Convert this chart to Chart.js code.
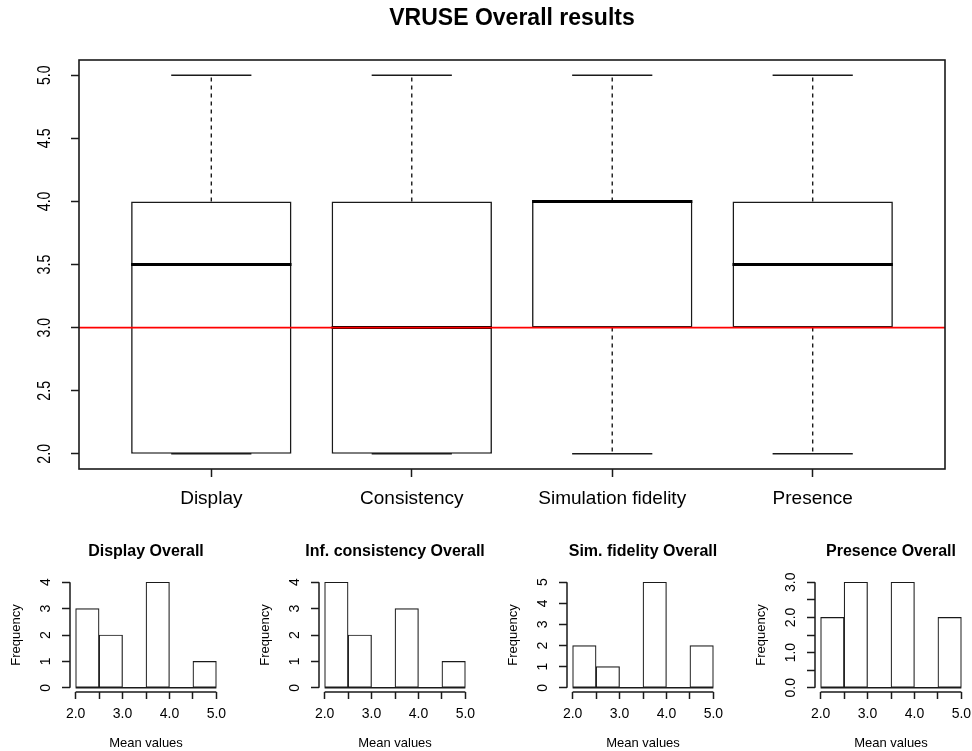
<!DOCTYPE html>
<html>
<head>
<meta charset="utf-8">
<title>VRUSE Overall results</title>
<script src="https://cdn.jsdelivr.net/npm/chart.js@4/dist/chart.umd.min.js"></script>
<style>
    html, body { margin: 0; padding: 0; background: #fff; }
    body { position: relative; width: 972px; height: 751px; overflow: hidden; }
    canvas { position: absolute; }
</style>
</head>
<body>
<canvas id="boxChart" width="972" height="530" style="left:0;top:0"></canvas>
<canvas id="hist0" width="249" height="221" style="left:0;top:530px"></canvas>
<canvas id="hist1" width="248" height="221" style="left:249px;top:530px"></canvas>
<canvas id="hist2" width="248" height="221" style="left:497px;top:530px"></canvas>
<canvas id="hist3" width="227" height="221" style="left:745px;top:530px"></canvas>
<script>
// --- Dados do boxplot principal ---
const boxCategories = ['Display', 'Consistency', 'Simulation fidelity', 'Presence'];
const boxMin = [2, 2, 2, 2];
const boxQ1 = [2, 2, 3, 3];
const boxMedian = [3.5, 3, 4, 3.5];
const boxQ3 = [4, 4, 4, 4];
const boxMax = [5, 5, 5, 5];
const referenceLine = 3;
const mainYTicks = [2.0, 2.5, 3.0, 3.5, 4.0, 4.5, 5.0];

// --- Dados dos histogramas ---
const histTitles = ['Display Overall', 'Inf. consistency Overall', 'Sim. fidelity Overall', 'Presence Overall'];
const binEdges = [2.0, 2.5, 3.0, 3.5, 4.0, 4.5, 5.0];
const displayCounts = [3, 2, 0, 4, 0, 1];
const consistencyCounts = [4, 2, 0, 3, 0, 1];
const fidelityCounts = [2, 1, 0, 5, 0, 2];
const presenceCounts = [2, 3, 0, 3, 0, 2];
const histXLabels = ['2.0', '', '3.0', '', '4.0', '', '5.0'];
const displayYTicks = [0, 1, 2, 3, 4];
const consistencyYTicks = [0, 1, 2, 3, 4];
const fidelityYTicks = [0, 1, 2, 3, 4, 5];
const presenceYTicks = [0, 0.5, 1, 1.5, 2, 2.5, 3];
const presenceYLabels = ['0.0', '', '1.0', '', '2.0', '', '3.0'];

const FONT = "'Liberation Sans', Arial, sans-serif";
const INK = '#1a1a1a';
Chart.defaults.font.family = FONT;
Chart.defaults.color = '#000';
Chart.defaults.animation = false;

// Rótulos do eixo y girados 90° como no R (texto paralelo ao eixo)
function rotatedYLabels(font, dx, squeeze, format) {
    return {
        id: 'rotatedYLabels',
        afterDraw(chart) {
            const scale = chart.scales.y;
            const ctx = chart.ctx;
            ctx.save();
            ctx.font = font;
            ctx.fillStyle = '#000';
            ctx.textAlign = 'center';
            ctx.textBaseline = 'middle';
            scale.ticks.forEach((t, i) => {
                const label = format(t.value, i);
                if (!label) return;
                ctx.save();
                ctx.translate(chart.chartArea.left + dx, scale.getPixelForValue(t.value));
                ctx.rotate(-Math.PI / 2);
                ctx.scale(squeeze, 1);
                ctx.fillText(label, 0, 0);
                ctx.restore();
            });
            ctx.restore();
        }
    };
}

// Título centrado sobre a área do gráfico, sem comprimir o texto
function plotTitle(text, font, y) {
    return {
        id: 'plotTitle',
        afterDraw(chart) {
            const a = chart.chartArea, ctx = chart.ctx;
            ctx.save();
            ctx.font = font;
            ctx.fillStyle = '#000';
            ctx.textAlign = 'center';
            ctx.textBaseline = 'middle';
            ctx.fillText(text, (a.left + a.right) / 2, y);
            ctx.restore();
        }
    };
}

const frameBox = {
    id: 'frameBox',
    afterDraw(chart) {
        const a = chart.chartArea, ctx = chart.ctx;
        ctx.save();
        ctx.strokeStyle = INK;
        ctx.lineWidth = 1.6;
        ctx.strokeRect(a.left, a.top, a.right - a.left, a.bottom - a.top);
        ctx.restore();
    }
};

// Eixos estilo R: a linha do eixo vai só do primeiro ao último tick
const rAxes = {
    id: 'rAxes',
    afterDatasetsDraw(chart) {
        const x = chart.scales.x, y = chart.scales.y, ctx = chart.ctx;
        const a = chart.chartArea;
        const xt = x.ticks, yt = y.ticks;
        ctx.save();
        ctx.strokeStyle = INK;
        ctx.lineWidth = 1.5;
        ctx.beginPath();
        ctx.moveTo(x.getPixelForValue(xt[0].value), a.bottom);
        ctx.lineTo(x.getPixelForValue(xt[xt.length - 1].value), a.bottom);
        ctx.moveTo(a.left, y.getPixelForValue(yt[0].value));
        ctx.lineTo(a.left, y.getPixelForValue(yt[yt.length - 1].value));
        // linha de base das classes vazias
        ctx.moveTo(x.getPixelForValue(binEdges[0]), y.getPixelForValue(0));
        ctx.lineTo(x.getPixelForValue(binEdges[binEdges.length - 1]), y.getPixelForValue(0));
        ctx.stroke();
        ctx.restore();
    }
};

// =====================================================================
// Boxplot principal
// =====================================================================
const X_MIN = 0.5 - 0.04 * 4, X_MAX = 4.5 + 0.04 * 4;
const Y_MIN = 2 - 0.04 * 3, Y_MAX = 5 + 0.04 * 3;

const boxData = boxCategories.map((c, i) => ({ x: i + 1, y: [boxQ1[i], boxQ3[i]] }));
const whiskerData = [];
const capData = [];
const medianData = [];
boxCategories.forEach((c, i) => {
    const x = i + 1;
    whiskerData.push({ x, y: boxQ3[i] }, { x, y: boxMax[i] }, { x, y: null });
    whiskerData.push({ x, y: boxQ1[i] }, { x, y: boxMin[i] }, { x, y: null });
    capData.push({ x: x - 0.2, y: boxMax[i] }, { x: x + 0.2, y: boxMax[i] }, { x, y: null });
    capData.push({ x: x - 0.2, y: boxMin[i] }, { x: x + 0.2, y: boxMin[i] }, { x, y: null });
    medianData.push({ x: x - 0.4, y: boxMedian[i] }, { x: x + 0.4, y: boxMedian[i] }, { x, y: null });
});

const lineBase = { type: 'line', pointRadius: 0, tension: 0, fill: false, spanGaps: false };

new Chart(document.getElementById('boxChart'), {
    type: 'bar',
    data: {
        datasets: [
            { type: 'bar', data: boxData, backgroundColor: '#fff', borderColor: INK, borderWidth: 1.6,
              borderSkipped: false, categoryPercentage: 1, barPercentage: 0.8, order: 4 },
            { ...lineBase, data: whiskerData, borderColor: INK, borderWidth: 1.4, borderDash: [4, 4], order: 3 },
            { ...lineBase, data: capData, borderColor: INK, borderWidth: 1.5, order: 2 },
            { ...lineBase, data: medianData, borderColor: '#000', borderWidth: 3, order: 1 },
            { ...lineBase, data: [{ x: X_MIN, y: referenceLine }, { x: X_MAX, y: referenceLine }],
              borderColor: '#ff0000', borderWidth: 1.6, order: 0 }
        ]
    },
    options: {
        responsive: false,
        layout: { padding: { left: 0, right: 27, top: 0, bottom: 0 } },
        plugins: {
            legend: { display: false },
            tooltip: { enabled: false },
            title: {
                display: true, text: 'VRUSE Overall results', fullSize: false,
                font: { size: 23, weight: 'bold', family: FONT }, color: '#000',
                padding: { top: 5, bottom: 27.4 }
            }
        },
        scales: {
            x: {
                type: 'linear', min: X_MIN, max: X_MAX, offset: false,
                afterBuildTicks: (s) => { s.ticks = boxCategories.map((c, i) => ({ value: i + 1 })); },
                afterFit: (s) => { s.height = 61; s.paddingLeft = 0; s.paddingRight = 0; },
                ticks: { autoSkip: false, maxRotation: 0, padding: 10, font: { size: 19 }, color: '#000',
                         callback: (v) => boxCategories[v - 1] },
                grid: { offset: false, drawOnChartArea: false, drawTicks: true, tickLength: 8, tickColor: INK, tickWidth: 1.5 },
                border: { display: false }
            },
            y: {
                type: 'linear', min: Y_MIN, max: Y_MAX,
                afterBuildTicks: (s) => { s.ticks = mainYTicks.map(v => ({ value: v })); },
                afterFit: (s) => { s.width = 79; s.paddingTop = 0; s.paddingBottom = 0; },
                ticks: { display: false },
                grid: { offset: false, drawOnChartArea: false, drawTicks: true, tickLength: 8, tickColor: INK, tickWidth: 1.5 },
                border: { display: false }
            }
        }
    },
    plugins: [frameBox, rotatedYLabels('19px ' + FONT, -34, 0.75, (v) => v.toFixed(1))]
});

// =====================================================================
// Histogramas
// =====================================================================
const histCounts = [displayCounts, consistencyCounts, fidelityCounts, presenceCounts];
const histYTicks = [displayYTicks, consistencyYTicks, fidelityYTicks, presenceYTicks];
const histYFormat = [
    (v) => String(v),
    (v) => String(v),
    (v) => String(v),
    (v, i) => presenceYLabels[i]
];
const HX_MIN = 2 - 0.04 * 3, HX_MAX = 5 + 0.04 * 3;

histCounts.forEach((counts, k) => {
    const canvas = document.getElementById('hist' + k);
    const yTicks = histYTicks[k];
    const yTop = yTicks[yTicks.length - 1];
    const bars = counts.map((n, i) => ({ x: (binEdges[i] + binEdges[i + 1]) / 2, y: n }));

    new Chart(canvas, {
        type: 'bar',
        data: {
            datasets: [{
                data: bars, backgroundColor: '#fff', borderColor: INK, borderWidth: 1.2,
                borderSkipped: false, categoryPercentage: 1, barPercentage: 1
            }]
        },
        options: {
            responsive: false,
            layout: { padding: { left: 0, right: canvas.width - 70 - 152, top: 48, bottom: 0 } },
            plugins: {
                legend: { display: false },
                tooltip: { enabled: false },
                title: { display: false }
            },
            scales: {
                x: {
                    type: 'linear', min: HX_MIN, max: HX_MAX, offset: false,
                    afterBuildTicks: (s) => { s.ticks = binEdges.map(v => ({ value: v })); },
                    afterFit: (s) => { s.height = 59; s.paddingLeft = 0; s.paddingRight = 0; },
                    ticks: { autoSkip: false, maxRotation: 0, padding: 7, font: { size: 14 }, color: '#000',
                             callback: (v, i) => histXLabels[i] },
                    grid: { offset: false, drawOnChartArea: false, drawTicks: true, tickLength: 7, tickColor: INK, tickWidth: 1.5 },
                    border: { display: false },
                    title: { display: true, text: 'Mean values', font: { size: 13 }, color: '#000',
                             padding: { top: 0, bottom: 0 } }
                },
                y: {
                    type: 'linear', min: -0.04 * yTop, max: 1.04 * yTop,
                    afterBuildTicks: (s) => { s.ticks = yTicks.map(v => ({ value: v })); },
                    afterFit: (s) => { s.width = 70; s.paddingTop = 0; s.paddingBottom = 0; },
                    ticks: { display: false },
                    grid: { offset: false, drawOnChartArea: false, drawTicks: true, tickLength: 8, tickColor: INK, tickWidth: 1.5 },
                    border: { display: false },
                    title: { display: true, text: 'Frequency', font: { size: 13 }, color: '#000',
                             padding: { top: 9, bottom: 0 } }
                }
            }
        },
        plugins: [rAxes, rotatedYLabels('14px ' + FONT, -24, 1, histYFormat[k]),
                  plotTitle(histTitles[k], 'bold 16px ' + FONT, 22)]
    });
});
</script>
</body>
</html>
